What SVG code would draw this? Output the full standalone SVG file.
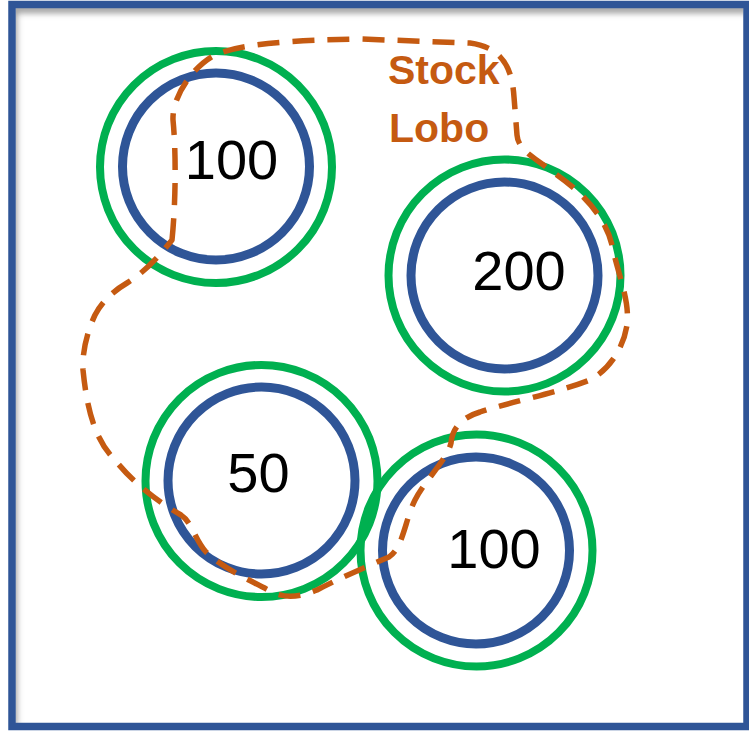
<svg xmlns="http://www.w3.org/2000/svg" width="749" height="732" viewBox="0 0 749 732">
  <defs>
    <style>
      .outer { fill: none; stroke: #00B050; stroke-width: 8; }
      .inner { fill: none; stroke: #2F5597; stroke-width: 9; }
      .num { font-family: "Liberation Sans", Arial, sans-serif; font-size: 56px; fill: #000; text-anchor: middle; }
      .lbl { font-family: "Liberation Sans", Arial, sans-serif; font-size: 41px; font-weight: bold; fill: #C55A11; }
      .boundary { fill: none; stroke: #C55A11; stroke-width: 5.5; stroke-dasharray: 22 13; stroke-linejoin: round; }
    </style>
    <filter id="soft" x="-5%" y="-5%" width="110%" height="110%">
      <feGaussianBlur stdDeviation="3"/>
    </filter>
    <clipPath id="inside">
      <rect x="15.5" y="8" width="728" height="715"/>
    </clipPath>
  </defs>

  <rect x="0" y="0" width="749" height="732" fill="#fff"/>

  <!-- frame with soft inner shadow on top and left -->
  <g id="frame">
    <g clip-path="url(#inside)">
      <path d="M 12 9 L 749 9 M 13 8 L 13 726" stroke="#9a9a9a" stroke-width="8" fill="none" filter="url(#soft)"/>
    </g>
    <rect x="12" y="4.5" width="735" height="722" fill="none" stroke="#2F5597" stroke-width="7.5"/>
  </g>

  <g id="node-100-top">
    <circle class="outer" cx="216" cy="167" r="116"/>
    <circle class="inner" cx="216" cy="166.5" r="93.5"/>
    <text class="num" x="231.5" y="179">100</text>
  </g>

  <g id="node-200">
    <circle class="outer" cx="504.5" cy="275.5" r="116"/>
    <circle class="inner" cx="504.5" cy="275.5" r="93.5"/>
    <text class="num" x="519" y="290">200</text>
  </g>

  <g id="node-50">
    <circle class="outer" cx="261.5" cy="481" r="116"/>
    <circle class="inner" cx="261.5" cy="480.5" r="93.5"/>
    <text class="num" x="258.5" y="492">50</text>
  </g>

  <g id="node-100-bottom">
    <circle class="outer" cx="476.5" cy="550.5" r="116"/>
    <circle class="inner" cx="476" cy="550.5" r="93.5"/>
    <text class="num" x="494" y="568">100</text>
  </g>

  <!-- dashed grouping boundary -->
  <g id="connectors">
    <path class="boundary" d="M 172 240 C 176 200 176 150 173 120 C 172 95 195 65 215 55 C 240 44 290 40 360 39 L 470 43 C 500 47 512 65 514 97 L 517 135 C 518 150 535 158 550 170 C 580 190 605 215 612 245 C 618 275 630 300 627 325 C 624 345 612 368 590 380 C 560 392 510 402 480 412 C 460 418 452 430 451 443 C 447 460 425 480 415 500 C 405 520 403 548 389 557 C 370 565 340 578 317 590 C 300 597 285 599 270 591 C 250 580 225 570 206 552 C 195 540 192 522 181 515 C 160 503 135 485 115 460 C 95 440 87 410 83 370 C 82 350 88 330 95 315 C 103 300 115 290 127 283 C 145 272 160 255 172 240 Z"/>
  </g>

  <g id="label-stock-lobo">
    <text class="lbl" x="388" y="84">Stock</text>
    <text class="lbl" x="389" y="142">Lobo</text>
  </g>
</svg>
